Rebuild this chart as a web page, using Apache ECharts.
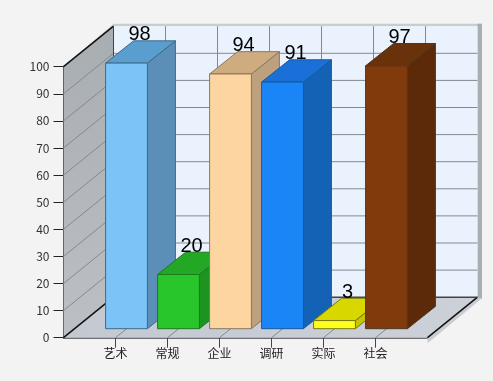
<!DOCTYPE html>
<html>
<head>
<meta charset="utf-8">
<style>
  html, body { margin: 0; padding: 0; background: #f3f3f3; }
  #chart { width: 493px; height: 381px; }
</style>
<script src="https://cdn.jsdelivr.net/npm/echarts@6/dist/echarts.min.js"></script>
</head>
<body>
<div id="chart"></div>
<script>
const categories = ['艺术', '常规', '企业', '调研', '实际', '社会']
const values = [98, 20, 94, 91, 3, 97]
const yTicks = [0, 10, 20, 30, 40, 50, 60, 70, 80, 90, 100]
// front, top, side, border
const barColors = [
  ['#7cc3f8', '#5a9dcf', '#5b8fb8', '#3d6a8a'],
  ['#28c62a', '#22a824', '#1e9420', '#1c7a1e'],
  ['#fdd5a0', '#cfab80', '#bda17f', '#8a7660'],
  ['#1a85f6', '#1a6fd8', '#1462b6', '#155a9c'],
  ['#ffff1e', '#d8d800', '#c6c600', '#77770f'],
  ['#803a0c', '#6a320a', '#5c2a08', '#4f3520']
]

// 立体效果的偏移量
const depthX = 50
const depthY = -40.5
const barGapX = 11
const barGapY = -9
const barDepthX = 28
const barDepthY = -22.3
const barHalf = 20.9

const xData = [''].concat(categories, [''])
const lastX = xData.length - 1

function poly(points, fill, stroke, z2) {
  return {
    type: 'polygon',
    z2: z2 || 0,
    shape: { points },
    style: { fill, stroke: stroke || null, lineWidth: 1 }
  }
}

function seg(a, b, stroke, lineWidth) {
  return {
    type: 'line',
    shape: { x1: a[0], y1: a[1], x2: b[0], y2: b[1] },
    style: { stroke, lineWidth: lineWidth || 1 }
  }
}

function back(p) {
  return [p[0] + depthX, p[1] + depthY]
}

function renderFrame(params, api) {
  const fl = api.coord([0, 0])
  const ft = api.coord([0, 100])
  const fr = api.coord([lastX, 0])
  const bl = back(fl)
  const bt = back(ft)
  const br = back(fr)
  const rt = [br[0], bt[1]]
  const out = 4.5
  const children = [
    // 外框
    poly([ft, [bt[0], bt[1] - 2.5], [rt[0] + out, bt[1] - 2.5], [rt[0] + out, br[1] + 1], [fr[0], fr[1] + 5.5], fr, br, rt, bt],
      '#c9cdd1'),
    poly([[rt[0], rt[1] - 2.5], [rt[0] + out, rt[1] - 2.5], [rt[0] + out, br[1] + 1], br], '#a9aeb3'),
    // 背板
    poly([bt, rt, br, bl], '#eaf3fd'),
    // 左侧
    poly([ft, bt, bl, fl], new echarts.graphic.LinearGradient(0, 0, 0, 1, [
      { offset: 0, color: '#a8adb2' },
      { offset: 1, color: '#bcc0c5' }
    ])),
    // 底面
    poly([fl, bl, br, fr], new echarts.graphic.LinearGradient(0, 0, 1, 0, [
      { offset: 0, color: '#c3c9d1' },
      { offset: 1, color: '#ccd1d8' }
    ]))
  ]
  yTicks.slice(1, -1).forEach(v => {
    const p = api.coord([0, v])
    const q = back(p)
    children.push(seg(p, q, '#85898e'))
    children.push(seg(q, [rt[0], q[1]], '#85898e'))
  })
  for (let i = 1; i < lastX; i++) {
    const p = api.coord([i, 0])
    const q = back(p)
    children.push(seg(p, q, '#85898e'))
    children.push(seg(q, [q[0], bt[1]], '#85898e'))
  }
  children.push(seg(ft, bt, '#111', 1.5))
  children.push(seg(fl, bl, '#111', 1.5))
  children.push(seg(fr, br, '#111', 1.5))
  children.push(seg(bt, bl, '#444'))
  children.push(seg(bl, br, '#444', 1.5))
  return { type: 'group', children }
}

function renderBar(params, api) {
  const i = params.dataIndex
  const base = api.coord([api.value(0), 0])
  const top = api.coord([api.value(0), api.value(1)])
  const colors = barColors[i]
  const x = base[0] + barGapX
  const y0 = base[1] + barGapY
  const y1 = top[1] + barGapY
  const l = x - barHalf
  const r = x + barHalf
  return {
    type: 'group',
    children: [
      poly([[r, y0], [r + barDepthX, y0 + barDepthY], [r + barDepthX, y1 + barDepthY], [r, y1]], colors[2], colors[3]),
      poly([[l, y1], [r, y1], [r + barDepthX, y1 + barDepthY], [l + barDepthX, y1 + barDepthY]], colors[1], colors[3]),
      poly([[l, y0], [r, y0], [r, y1], [l, y1]], colors[0], colors[3])
    ]
  }
}

function renderLabel(params, api) {
  const top = api.coord([api.value(0), api.value(1)])
  return {
    type: 'text',
    style: {
      x: top[0] + barGapX + barDepthX / 2 - 1,
      y: top[1] + barGapY + barDepthY + 4,
      text: String(api.value(1)),
      fill: '#000',
      font: '20px "Liberation Sans"',
      textAlign: 'center',
      textVerticalAlign: 'bottom'
    }
  }
}

const barData = values.map((v, i) => [i + 1, v])

const option = {
  animation: false,
  backgroundColor: '#f3f3f3',
  grid: { left: 63.5, top: 66.7, width: 364, height: 271 },
  xAxis: {
    type: 'category',
    boundaryGap: false,
    data: xData,
    axisLine: { lineStyle: { color: '#444', width: 1.5 } },
    axisTick: { length: 10, interval: (index, value) => value !== '', lineStyle: { color: '#444' } },
    axisLabel: { color: '#222', fontSize: 12, margin: 10, fontFamily: 'Noto Sans CJK SC', interval: 0 },
    splitLine: { show: false }
  },
  yAxis: {
    type: 'value',
    min: 0,
    max: 100,
    interval: 10,
    axisLine: { show: true, lineStyle: { color: '#111' } },
    axisTick: { show: true, length: 10, lineStyle: { color: '#222' } },
    axisLabel: { color: '#333', fontSize: 12, margin: 14, fontFamily: 'Noto Sans CJK SC' },
    splitLine: { show: false }
  },
  series: [
    { type: 'custom', z: 1, silent: true, renderItem: renderFrame, data: [[0, 0]], encode: { x: 0, y: 1 } },
    { type: 'custom', z: 2, silent: true, renderItem: renderBar, data: barData, encode: { x: 0, y: 1 } },
    { type: 'custom', z: 3, silent: true, renderItem: renderLabel, data: barData, encode: { x: 0, y: 1 } }
  ]
}

const myChart = echarts.init(document.getElementById('chart'))
myChart.setOption(option)
</script>
</body>
</html>
